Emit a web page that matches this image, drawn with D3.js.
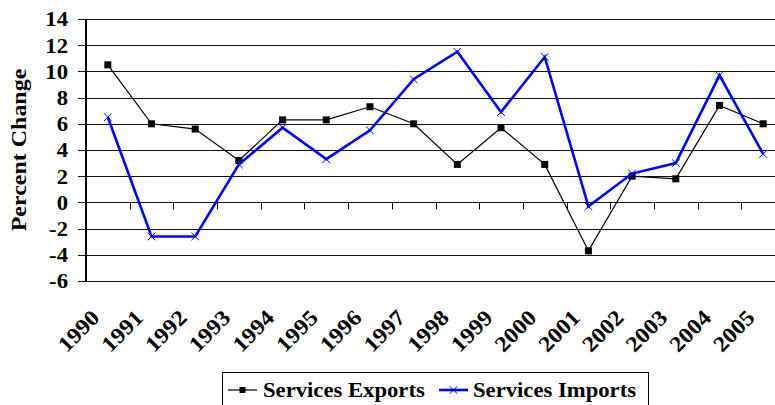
<!DOCTYPE html>
<html>
<head>
<meta charset="utf-8">
<script src="https://cdn.jsdelivr.net/npm/d3@7"></script>
<style>
  body { margin: 0; background: #fff; }
  text { font-family: "Liberation Serif", "Times New Roman", serif; font-weight: bold; fill: #000; }
</style>
</head>
<body>
<svg id="chart" width="775" height="405"></svg>
<script>
// data
var years = ["1990","1991","1992","1993","1994","1995","1996","1997","1998","1999","2000","2001","2002","2003","2004","2005"];
var exportsPct = [10.5, 6.0, 5.6, 3.2, 6.3, 6.3, 7.3, 6.0, 2.9, 5.7, 2.9, -3.7, 2.0, 1.8, 7.4, 6.0];
var importsPct = [6.5, -2.6, -2.6, 2.9, 5.7, 3.3, 5.5, 9.4, 11.5, 6.9, 11.1, -0.3, 2.2, 3.0, 9.7, 3.7];
var yTicks = [-6, -4, -2, 0, 2, 4, 6, 8, 10, 12, 14];

var svg = d3.select("#chart");
var plotL = 86, plotR = 785, plotT = 19, plotB = 281;

var x = d3.scaleBand().domain(years).range([plotL, plotR]);
var y = d3.scaleLinear().domain([-6, 14]).range([plotB, plotT]);
var cx = function(d, i) { return x(years[i]) + x.bandwidth() / 2; };

// gridlines (they also act as y ticks)
svg.append("g").selectAll("line")
    .data(yTicks)
    .join("line")
    .attr("x1", plotL - 8).attr("x2", plotR)
    .attr("y1", function(d) { return Math.round(y(d)) + 0.5; })
    .attr("y2", function(d) { return Math.round(y(d)) + 0.5; })
    .style("stroke", "#111").style("stroke-width", 1);

// y labels (the original font is a bit wide, so stretch a little)
svg.append("g").selectAll("text")
    .data(yTicks)
    .join("text")
    .attr("transform", function(d) { return "translate(68," + y(d) + ") scale(1.08,1)"; })
    .attr("dy", "0.35em")
    .attr("text-anchor", "end")
    .style("font-size", "21px")
    .text(function(d) { return d; });

// left axis line
svg.append("line")
    .attr("x1", plotL).attr("x2", plotL)
    .attr("y1", plotT).attr("y2", plotB + 0.5)
    .style("stroke", "#000").style("stroke-width", 2);

// x ticks on the zero line
svg.append("g").selectAll("line")
    .data(years.slice(1))
    .join("line")
    .attr("x1", function(d) { return Math.round(x(d)) + 0.5; })
    .attr("x2", function(d) { return Math.round(x(d)) + 0.5; })
    .attr("y1", y(0)).attr("y2", y(0) + 7)
    .style("stroke", "#000").style("stroke-width", 1);

// x labels
svg.append("g").selectAll("text")
    .data(years)
    .join("text")
    .attr("transform", function(d) { return "translate(" + (x(d) + x.bandwidth() / 2 - 7) + ",319) rotate(-45) scale(1.1,1)"; })
    .attr("text-anchor", "end")
    .style("font-size", "22px")
    .text(function(d) { return d; });

// y axis title
svg.append("text")
    .attr("transform", "translate(26,150) rotate(-90) scale(1.09,1)")
    .attr("text-anchor", "middle")
    .style("font-size", "22px")
    .text("Percent Change");

// series lines
var lineGen = d3.line()
    .x(function(d, i) { return cx(d, i); })
    .y(function(d) { return y(d); });

svg.append("path")
    .datum(exportsPct)
    .attr("d", lineGen)
    .style("fill", "none").style("stroke", "#000").style("stroke-width", 1.2);

svg.append("g").selectAll("rect")
    .data(exportsPct)
    .join("rect")
    .attr("x", function(d, i) { return cx(d, i) - 3.5; })
    .attr("y", function(d) { return y(d) - 3.5; })
    .attr("width", 7).attr("height", 7)
    .style("fill", "#000");

svg.append("path")
    .datum(importsPct)
    .attr("d", lineGen)
    .style("fill", "none").style("stroke", "#0000ff").style("stroke-width", 2.6);

var xMark = d3.symbol().type(d3.symbolTimes).size(40);
svg.append("g").selectAll("path")
    .data(importsPct)
    .join("path")
    .attr("transform", function(d, i) { return "translate(" + cx(d, i) + "," + y(d) + ")"; })
    .attr("d", xMark)
    .style("fill", "none").style("stroke", "#0000ff").style("stroke-width", 1);

// legend
var legend = svg.append("g");
legend.append("rect")
    .attr("x", 222.5).attr("y", 372.5)
    .attr("width", 426).attr("height", 40)
    .style("fill", "#fff").style("stroke", "#000").style("stroke-width", 1);

var legendItems = [
    { label: "Services Exports", color: "#000", width: 1.2, x0: 228, tx: 263, mark: "square" },
    { label: "Services Imports", color: "#0000ff", width: 2.6, x0: 439, tx: 473, mark: "times" }
];
var ly = 390;
legendItems.forEach(function(it) {
    legend.append("line")
        .attr("x1", it.x0).attr("x2", it.x0 + 29)
        .attr("y1", ly).attr("y2", ly)
        .style("stroke", it.color).style("stroke-width", it.width);
    if (it.mark == "square") {
        legend.append("rect")
            .attr("x", it.x0 + 14.5 - 3).attr("y", ly - 3)
            .attr("width", 6).attr("height", 6)
            .style("fill", it.color);
    } else {
        legend.append("path")
            .attr("transform", "translate(" + (it.x0 + 14.5) + "," + ly + ")")
            .attr("d", xMark)
            .style("fill", "none").style("stroke", it.color).style("stroke-width", 1);
    }
    legend.append("text")
        .attr("transform", "translate(" + it.tx + "," + ly + ") scale(1.08,1)")
        .attr("dy", "0.35em")
        .style("font-size", "21px")
        .text(it.label);
});
</script>
</body>
</html>
